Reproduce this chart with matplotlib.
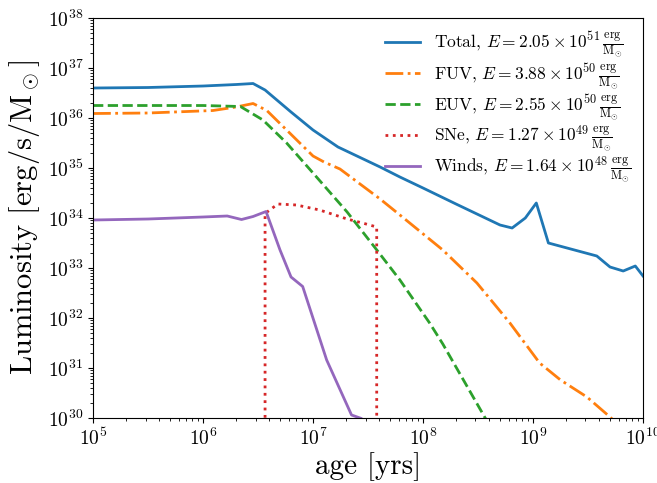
import numpy as np
import matplotlib
matplotlib.use("Agg")
import matplotlib.pyplot as plt

plt.rcParams["font.family"] = "serif"
plt.rcParams["font.serif"] = ["cmr10"]
plt.rcParams["mathtext.fontset"] = "cm"
plt.rcParams["axes.formatter.use_mathtext"] = True

# log10(age / yr), log10(L / (erg/s/Msun)) for each channel
total_logt = [5.0, 5.5, 6.0, 6.3, 6.455, 6.564, 6.8, 7.0, 7.227, 7.61, 7.79, 8.0,
              8.3, 8.70, 8.81, 8.93, 9.03, 9.14, 9.58, 9.70, 9.82, 9.93, 10.0]
total_logL = [36.60, 36.61, 36.64, 36.67, 36.69, 36.56, 36.12, 35.76, 35.42, 35.02, 34.82, 34.60,
              34.28, 33.86, 33.80, 34.00, 34.30, 33.50, 33.24, 33.02, 32.94, 33.04, 32.84]

fuv_logt = [5.0, 5.5, 6.09, 6.3, 6.455, 6.58, 6.82, 7.0, 7.1, 7.245, 7.61, 7.79, 8.18,
            8.49, 8.79, 9.06, 9.25, 9.49, 9.70, 9.85]
fuv_logL = [36.09, 36.10, 36.15, 36.22, 36.29, 36.15, 35.63, 35.24, 35.12, 34.98, 34.38, 34.06, 33.36,
            32.70, 31.90, 31.10, 30.76, 30.42, 30.02, 29.70]

euv_logt = [5.0, 5.5, 6.0, 6.34, 6.545, 6.76, 7.0, 7.31, 7.58, 7.79, 8.06, 8.18, 8.56, 8.70]
euv_logL = [36.25, 36.25, 36.25, 36.23, 35.96, 35.50, 34.90, 34.12, 33.36, 32.76, 31.90, 31.48,
            30.02, 29.50]

sne_logt = [6.564, 6.564, 6.68, 6.85, 7.06, 7.31, 7.45, 7.579, 7.579]
sne_logL = [20.0, 34.09, 34.28, 34.26, 34.16, 33.98, 33.90, 33.82, 20.0]

winds_logt = [5.0, 5.5, 6.0, 6.22, 6.35, 6.455, 6.573, 6.70, 6.80, 6.906, 7.124, 7.35,
              7.44, 7.6]
winds_logL = [33.96, 33.98, 34.02, 34.04, 33.97, 34.03, 34.13, 33.36, 32.82, 32.63, 31.16, 30.06,
              29.99, 29.0]

labels = [
    r"Total, $E = 2.05 \times 10^{51}\,\frac{\mathrm{erg}}{\mathrm{M}_{\odot}}$",
    r"FUV, $E = 3.88 \times 10^{50}\,\frac{\mathrm{erg}}{\mathrm{M}_{\odot}}$",
    r"EUV, $E = 2.55 \times 10^{50}\,\frac{\mathrm{erg}}{\mathrm{M}_{\odot}}$",
    r"SNe, $E = 1.27 \times 10^{49}\,\frac{\mathrm{erg}}{\mathrm{M}_{\odot}}$",
    r"Winds, $E = 1.64 \times 10^{48}\,\frac{\mathrm{erg}}{\mathrm{M}_{\odot}}$",
]

series = [
    (total_logt, total_logL, "tab:blue", "-"),
    (fuv_logt, fuv_logL, "tab:orange", "-."),
    (euv_logt, euv_logL, "tab:green", "--"),
    (sne_logt, sne_logL, "tab:red", ":"),
    (winds_logt, winds_logL, "tab:purple", "-"),
]

fig = plt.figure(figsize=(6.57, 4.83), dpi=100)
ax = fig.add_axes([0.1416, 0.1346, 0.8371, 0.8281])

for (lt, lL, color, ls), label in zip(series, labels):
    ax.plot(10 ** np.array(lt), 10 ** np.array(lL), color=color, ls=ls, lw=2, label=label)

ax.set_xscale("log")
ax.set_yscale("log")
ax.set_xlim(1e5, 1e10)
ax.set_ylim(1e30, 1e38)
ax.tick_params(labelsize=14)
ax.set_xlabel("age [yrs]", fontsize=21, labelpad=2)
ax.set_ylabel(r"Luminosity [erg/s/M$_\odot$]", fontsize=22)
ax.legend(loc="upper right", frameon=False, fontsize=12.5, handlelength=2.0,
          labelspacing=0.05, borderaxespad=0.3)

fig.savefig("out.png", dpi=100)
